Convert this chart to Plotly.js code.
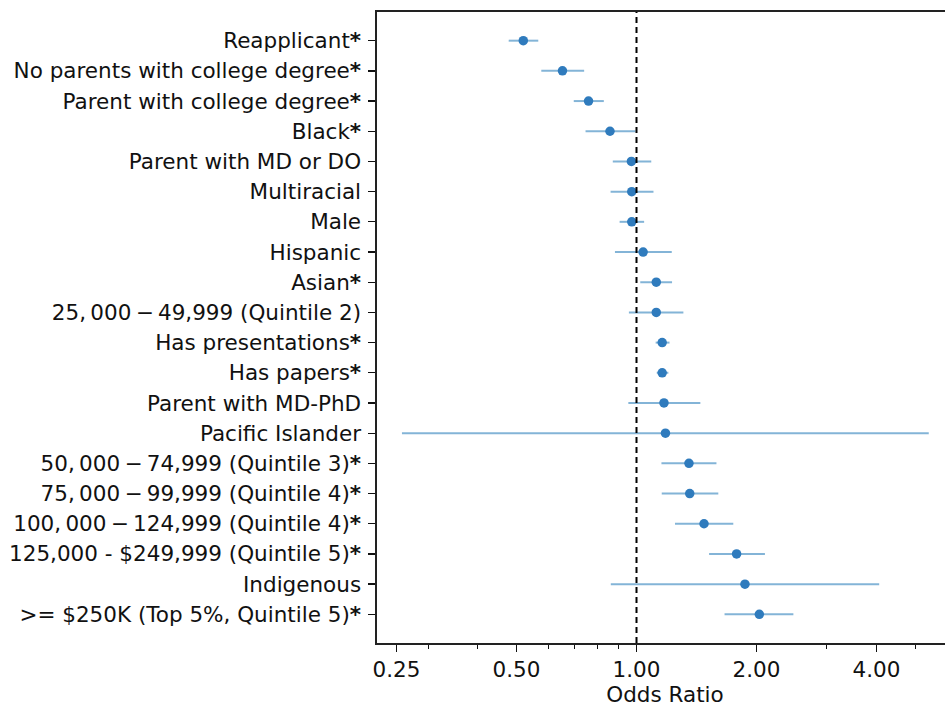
<!DOCTYPE html>
<html>
<head>
<meta charset="utf-8">
<script src="https://cdn.plot.ly/plotly-3.0.1.min.js"></script>
<style>
html, body { margin: 0; padding: 0; overflow: hidden; background: #fff; }
#chart { width: 953px; height: 707px; }
</style>
</head>
<body>
<div id="chart"></div>
<script>
const labels = [
  "Reapplicant*",
  "No parents with college degree*",
  "Parent with college degree*",
  "Black*",
  "Parent with MD or DO",
  "Multiracial",
  "Male",
  "Hispanic",
  "Asian*",
  "25,\u2009000\u2009\u2212\u200949,999 (Quintile 2)",
  "Has presentations*",
  "Has papers*",
  "Parent with MD-PhD",
  "Pacific Islander",
  "50,\u2009000\u2009\u2212\u200974,999 (Quintile 3)*",
  "75,\u2009000\u2009\u2212\u200999,999 (Quintile 4)*",
  "100,\u2009000\u2009\u2212\u2009124,999 (Quintile 4)*",
  "125,000 - $249,999 (Quintile 5)*",
  "Indigenous",
  ">= $250K (Top 5%, Quintile 5)*"
];
const oddsRatio = [0.520, 0.652, 0.758, 0.858, 0.971, 0.973, 0.973, 1.039, 1.121, 1.121,
                   1.160, 1.160, 1.172, 1.182, 1.354, 1.360, 1.477, 1.783, 1.871, 2.033];
const ciLow  = [0.478, 0.577, 0.696, 0.745, 0.872, 0.861, 0.907, 0.883, 1.022, 0.957,
                1.117, 1.124, 0.954, 0.258, 1.155, 1.157, 1.249, 1.521, 0.862, 1.663];
const ciHigh = [0.567, 0.739, 0.828, 0.994, 1.089, 1.103, 1.045, 1.226, 1.228, 1.311,
                1.210, 1.202, 1.446, 5.410, 1.587, 1.604, 1.749, 2.100, 4.063, 2.475];
const xTickVals = [0.25, 0.5, 1, 2, 4];
const xTickText = ["0.25", "0.50", "1.00", "2.00", "4.00"];
const xMinorVals = [0.3, 0.4, 0.6, 0.7, 0.8, 0.9, 3, 5, 6];
const refValue = 1;

const errPlus = oddsRatio.map((v, i) => ciHigh[i] - v);
const errMinus = oddsRatio.map((v, i) => v - ciLow[i]);
const labelText = labels.map(s => s.replace(/&/g, "&amp;").replace(/</g, "&lt;").replace(/>/g, "&gt;")
  .replace(/\*$/, "<b>*</b>"));

const font = "DejaVu Sans, sans-serif";
const fs = 21.5;

const traces = [
  {
    type: "scatter",
    mode: "lines",
    x: [refValue, refValue],
    y: [0, 1],
    yaxis: "y2",
    line: { color: "#000", width: 2, dash: "6px,4px" },
    hoverinfo: "skip",
    showlegend: false
  },
  {
    type: "scatter",
    mode: "markers",
    x: oddsRatio,
    y: labels,
    marker: { color: "#2f7bbd", size: 9.5 },
    error_x: {
      type: "data",
      symmetric: false,
      array: errPlus,
      arrayminus: errMinus,
      color: "rgba(49,130,189,0.6)",
      thickness: 2,
      width: 0
    },
    showlegend: false
  }
];

const layout = {
  width: 953,
  height: 707,
  margin: { l: 377, r: 0, t: 12, b: 64 },
  paper_bgcolor: "#fff",
  plot_bgcolor: "#fff",
  font: { family: font, size: fs, color: "#111" },
  showlegend: false,
  xaxis: {
    type: "log",
    range: [-0.651, 0.794],
    tickmode: "array",
    tickvals: xTickVals,
    ticktext: xTickText,
    ticks: "outside",
    ticklen: 7,
    tickwidth: 1.3,
    tickcolor: "#111",
    showgrid: false,
    zeroline: false,
    showline: true,
    linecolor: "#222",
    linewidth: 1.6,
    mirror: true,
    tickfont: { family: font, size: fs, color: "#111" },
    minor: {
      tickmode: "array",
      tickvals: xMinorVals,
      ticks: "outside",
      ticklen: 4,
      tickwidth: 1,
      tickcolor: "#111",
      showgrid: false
    },
    title: { text: "Odds Ratio", font: { family: font, size: fs, color: "#111" }, standoff: 6 }
  },
  yaxis: {
    type: "category",
    categoryorder: "array",
    categoryarray: labels,
    range: [19.95, -0.95],
    tickmode: "array",
    tickvals: labels,
    ticktext: labelText,
    ticks: "outside",
    ticklen: 7,
    tickwidth: 1.3,
    tickcolor: "#111",
    showgrid: false,
    zeroline: false,
    showline: true,
    linecolor: "#222",
    linewidth: 1.6,
    mirror: false,
    ticklabelstandoff: 3,
    tickfont: { family: font, size: fs, color: "#111" }
  },
  yaxis2: {
    overlaying: "y",
    range: [0, 1],
    visible: false,
    showgrid: false,
    zeroline: false,
    fixedrange: true
  }
};

Plotly.newPlot("chart", traces, layout, { staticPlot: true, displayModeBar: false });
</script>
</body>
</html>
